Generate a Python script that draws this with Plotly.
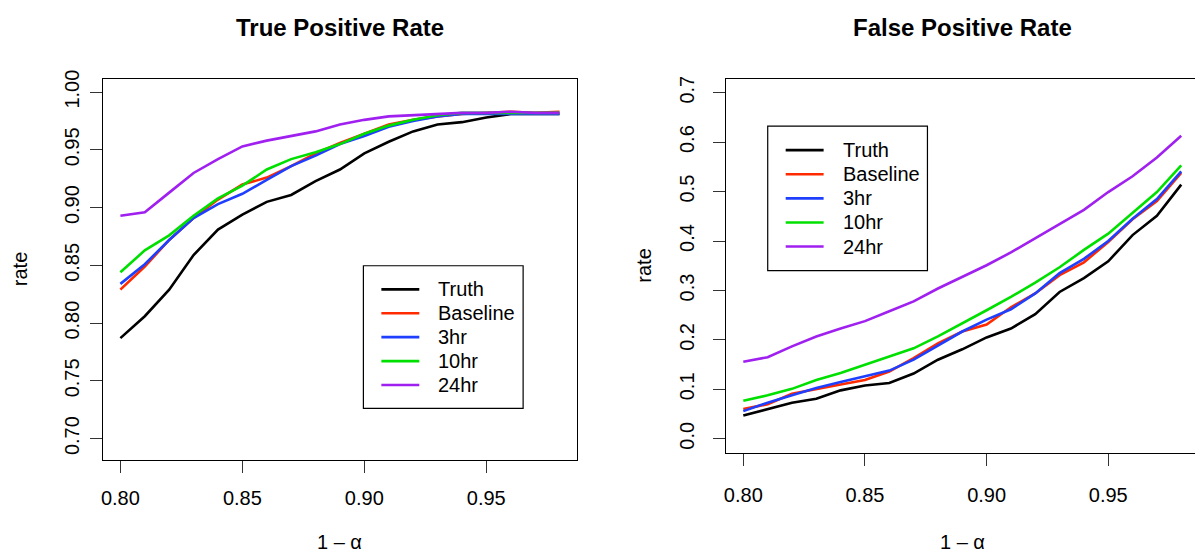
import plotly.graph_objects as go

# ---- data ----
alpha = [0.80, 0.81, 0.82, 0.83, 0.84, 0.85, 0.86, 0.87, 0.88, 0.89,
         0.90, 0.91, 0.92, 0.93, 0.94, 0.95, 0.96, 0.97, 0.98]
series_names = ["Truth", "Baseline", "3hr", "10hr", "24hr"]
series_colors = ["#000000", "#FF2A00", "#1F3FFF", "#00E000", "#A020F0"]

tpr_truth = [0.787, 0.806, 0.829, 0.859, 0.881, 0.894, 0.905, 0.911, 0.923, 0.933,
             0.947, 0.957, 0.966, 0.972, 0.974, 0.978, 0.981, 0.981, 0.981]
tpr_baseline = [0.829, 0.849, 0.872, 0.891, 0.907, 0.920, 0.926, 0.936, 0.947, 0.956,
                0.964, 0.972, 0.976, 0.979, 0.981, 0.982, 0.983, 0.982, 0.983]
tpr_3hr = [0.834, 0.851, 0.872, 0.891, 0.903, 0.912, 0.924, 0.936, 0.945, 0.955,
           0.962, 0.970, 0.975, 0.979, 0.981, 0.981, 0.981, 0.981, 0.981]
tpr_10hr = [0.844, 0.863, 0.876, 0.893, 0.908, 0.919, 0.933, 0.942, 0.948, 0.955,
            0.964, 0.971, 0.976, 0.980, 0.982, 0.982, 0.982, 0.982, 0.982]
tpr_24hr = [0.893, 0.896, 0.913, 0.930, 0.942, 0.953, 0.958, 0.962, 0.966, 0.972,
            0.976, 0.979, 0.980, 0.981, 0.982, 0.982, 0.983, 0.982, 0.982]

fpr_truth = [0.047, 0.060, 0.073, 0.081, 0.098, 0.108, 0.113, 0.132, 0.160, 0.181,
             0.205, 0.223, 0.252, 0.297, 0.325, 0.359, 0.412, 0.451, 0.514]
fpr_baseline = [0.060, 0.070, 0.091, 0.101, 0.110, 0.119, 0.136, 0.163, 0.193, 0.217,
                0.231, 0.266, 0.294, 0.331, 0.357, 0.398, 0.444, 0.481, 0.538]
fpr_3hr = [0.056, 0.073, 0.088, 0.103, 0.115, 0.127, 0.138, 0.160, 0.189, 0.217,
           0.241, 0.262, 0.294, 0.335, 0.364, 0.400, 0.445, 0.485, 0.541]
fpr_10hr = [0.077, 0.088, 0.101, 0.119, 0.133, 0.150, 0.166, 0.183, 0.207, 0.233,
            0.260, 0.287, 0.316, 0.347, 0.382, 0.415, 0.456, 0.499, 0.553]
fpr_24hr = [0.156, 0.165, 0.187, 0.207, 0.223, 0.238, 0.258, 0.278, 0.304, 0.327,
            0.351, 0.377, 0.406, 0.435, 0.463, 0.499, 0.531, 0.569, 0.613]

x_ticks = [0.80, 0.85, 0.90, 0.95]
tpr_ticks = [0.70, 0.75, 0.80, 0.85, 0.90, 0.95, 1.00]
fpr_ticks = [0.0, 0.1, 0.2, 0.3, 0.4, 0.5, 0.6, 0.7]

titles = ["True Positive Rate", "False Positive Rate"]
x_title = "1 \u2013 \u03b1"
y_title = "rate"

tpr_series = [tpr_truth, tpr_baseline, tpr_3hr, tpr_10hr, tpr_24hr]
fpr_series = [fpr_truth, fpr_baseline, fpr_3hr, fpr_10hr, fpr_24hr]

# ---- layout geometry (pixels) ----
W, H = 1195, 553
FONT = "Liberation Sans, Arial, Helvetica, sans-serif"


def px(x):
    return x / W


def py(y):
    return 1 - y / H


fig = go.Figure()

for name, col, ys in zip(series_names, series_colors, tpr_series):
    fig.add_trace(go.Scatter(x=alpha, y=ys, mode="lines", name=name,
                             line=dict(color=col, width=2.6),
                             xaxis="x", yaxis="y", showlegend=False))
for name, col, ys in zip(series_names, series_colors, fpr_series):
    fig.add_trace(go.Scatter(x=alpha, y=ys, mode="lines", name=name,
                             line=dict(color=col, width=2.6),
                             xaxis="x2", yaxis="y2", showlegend=False))

box_top = 71
L_bot, R_bot = 458, 451
L_left, L_right = 101, 576
R_left = 725

axis_common = dict(showgrid=False, zeroline=False, showline=True,
                   linecolor="black", linewidth=1.4, ticks="outside",
                   ticklen=12, tickwidth=1.4, tickcolor="#333333",
                   tickfont=dict(family=FONT, size=20, color="black"))

fig.update_layout(
    width=W, height=H,
    margin=dict(l=0, r=0, t=0, b=0),
    paper_bgcolor="white", plot_bgcolor="white",
    font=dict(family=FONT, color="black"),
    xaxis=dict(domain=[px(L_left), px(L_right)], range=[0.7928, 0.9872],
               tickvals=x_ticks, tickformat=".2f", mirror=True, anchor="y",
               ticklabelstandoff=8, **axis_common),
    yaxis=dict(domain=[py(L_bot), py(box_top)], range=[0.6819, 1.0115],
               tickvals=tpr_ticks, tickformat=".2f", tickangle=-90,
               mirror=True, anchor="x", ticklabelstandoff=3, **axis_common),
    xaxis2=dict(domain=[px(R_left), 1.0], range=[0.7928, 0.98566],
                tickvals=x_ticks, tickformat=".2f", mirror=True, anchor="y2",
                ticklabelstandoff=12, **axis_common),
    yaxis2=dict(domain=[py(R_bot), py(box_top)], range=[-0.028, 0.728],
                tickvals=fpr_ticks, tickformat=".1f", tickangle=-90,
                mirror=False, anchor="x2", ticklabelstandoff=11, **axis_common),
    showlegend=False,
)

# legends drawn as boxes with line keys and labels
legend_specs = [
    # box x0, x1, y0, y1, line x0, line x1, text x, first row y, row step
    (362, 522, 261, 406, 380, 418, 435, 285, 24.3),
    (767, 927, 119, 266, 785, 823, 840, 143.5, 24.5),
]
for bx0, bx1, by0, by1, lx0, lx1, tx, ry0, rstep in legend_specs:
    fig.add_shape(type="rect", xref="paper", yref="paper",
                  x0=px(bx0), x1=px(bx1), y0=py(by1), y1=py(by0),
                  line=dict(color="black", width=1.2), fillcolor="white",
                  layer="below")
    for i, (name, col) in enumerate(zip(series_names, series_colors)):
        ry = ry0 + i * rstep
        fig.add_shape(type="line", xref="paper", yref="paper",
                      x0=px(lx0), x1=px(lx1), y0=py(ry), y1=py(ry),
                      line=dict(color=col, width=2.6))
        fig.add_annotation(x=px(tx), y=py(ry), xref="paper", yref="paper",
                           text=name, showarrow=False,
                           xanchor="left", yanchor="middle",
                           font=dict(family=FONT, size=20, color="black"))

# titles
for cx, t in zip([(L_left + L_right) / 2, (R_left + 1199) / 2], titles):
    fig.add_annotation(x=px(cx), y=py(19), xref="paper", yref="paper",
                       text="<b>" + t + "</b>", showarrow=False,
                       xanchor="center", yanchor="middle",
                       font=dict(family=FONT, size=24, color="black"))
# x axis titles
for cx in [(L_left + L_right) / 2, (R_left + 1199) / 2]:
    fig.add_annotation(x=px(cx), y=py(542), xref="paper", yref="paper",
                       text=x_title, showarrow=False,
                       xanchor="center", yanchor="middle",
                       font=dict(family=FONT, size=20, color="black"))
# y axis titles
for cx, bot in [(18, L_bot), (643, R_bot)]:
    fig.add_annotation(x=px(cx), y=py((box_top + bot) / 2), xref="paper", yref="paper",
                       text=y_title, showarrow=False, textangle=-90,
                       xanchor="center", yanchor="middle",
                       font=dict(family=FONT, size=20, color="black"))

fig.write_html("out.html", config={"displayModeBar": False},
               post_script="document.body.style.margin='0px';document.body.style.overflow='hidden';")
